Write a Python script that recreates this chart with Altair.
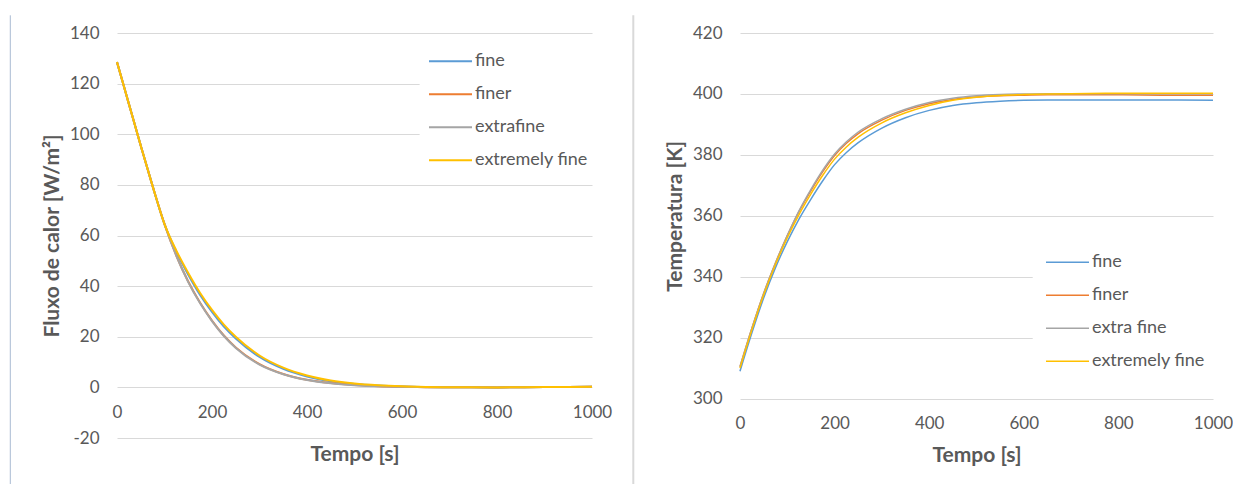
import altair as alt
import pandas as pd

# time axis [s]
t = [0, 25, 50, 75, 100, 125, 150, 175, 200, 225, 250, 300, 350, 400,
     450, 500, 550, 600, 650, 700, 800, 900, 1000]

# left panel: heat flux [W/m2]
flux_fine = [128.5, 112, 95.5, 79.5, 64.5, 53.5, 44.5, 36.5, 29.8, 24, 19.3, 12,
             7.3, 4.3, 2.4, 1.3, 0.7, 0.35, 0.15, 0.05, 0, 0.1, 0.2]
flux_finer = [128.5, 112, 95.5, 79.5, 64.5, 52, 41.8, 33.4, 26.4, 20.5, 15.8, 9.2,
              5.3, 3.0, 1.7, 0.9, 0.45, 0.2, 0.08, 0.02, 0, 0.1, 0.2]
flux_extrafine = [128.5, 112, 95.5, 79.5, 64.5, 52, 41.6, 33.2, 26.2, 20.3, 15.6, 9.0,
                  5.2, 2.9, 1.6, 0.85, 0.4, 0.2, 0.08, 0.02, 0, 0.1, 0.2]
flux_extreme = [128.5, 112, 95.5, 79.5, 64.5, 54, 45.2, 37.3, 30.6, 24.8, 20.0, 12.6,
                7.8, 4.7, 2.7, 1.5, 0.8, 0.4, 0.18, 0.06, 0, 0.1, 0.2]

# right panel: temperature [K]
temp_fine = [309, 321.5, 333, 343, 351.5, 359, 365.5, 371.5, 376.8, 380.8, 384, 388.8,
             392.2, 394.6, 396.2, 397.1, 397.6, 397.9, 398.0, 398.0, 398.0, 398.0, 397.9]
temp_finer = [310.5, 323, 334.5, 344.5, 353.5, 361.5, 368.3, 374.5, 379.8, 383.8, 387,
              391.4, 394.6, 396.8, 398.2, 399, 399.4, 399.6, 399.7, 399.7, 399.7, 399.6, 399.6]
temp_extrafine = [310.5, 323, 334.5, 344.5, 353.5, 361.7, 368.7, 375, 380.3, 384.3, 387.5,
                  391.9, 395, 397.2, 398.6, 399.4, 399.8, 400, 400.1, 400.1, 400.1, 400.1, 400.1]
temp_extreme = [310, 322.5, 334, 344, 352.8, 360.5, 367.2, 373.3, 378.6, 382.6, 385.8,
                390.5, 393.8, 396.2, 397.9, 398.9, 399.5, 399.8, 400, 400.1, 400.2, 400.2, 400.2]

names_left = ["fine", "finer", "extrafine", "extremely fine"]
names_right = ["fine", "finer", "extra fine", "extremely fine"]
colors = ["#5B9BD5", "#ED7D31", "#A5A5A5", "#FFC000"]

x_ticks = [0, 200, 400, 600, 800, 1000]
y_ticks_left = [-20, 0, 20, 40, 60, 80, 100, 120, 140]
y_ticks_right = [300, 320, 340, 360, 380, 400, 420]

FONT = "Lato"
TXT = "#595959"


def long_df(names, series):
    rows = []
    for i, (n, vals) in enumerate(zip(names, series)):
        for tt, v in zip(t, vals):
            rows.append({"t": tt, "v": v, "s": n, "k": i})
    return pd.DataFrame(rows)


df_left = long_df(names_left, [flux_fine, flux_finer, flux_extrafine, flux_extreme])
df_right = long_df(names_right, [temp_fine, temp_finer, temp_extrafine, temp_extreme])
one = pd.DataFrame({"a": [0]})


def panel(df, names, ydom, yticks, ytitle, w, h, x_offset, title_y,
          lx, ly, rect, sep_color, sep_w, stroke):
    lines = alt.Chart(df).mark_line(interpolate="monotone", strokeWidth=stroke).encode(
        x=alt.X("t:Q", scale=alt.Scale(domain=[0, 1000], nice=False),
                axis=alt.Axis(values=x_ticks, title="Tempo [s]", grid=False, domain=False,
                              ticks=False, labelPadding=25, labelBaseline="middle",
                              labelFlush=False, offset=x_offset, titleY=title_y,
                              titleBaseline="middle", labelExpr="'' + datum.value")),
        y=alt.Y("v:Q", scale=alt.Scale(domain=ydom, nice=False, zero=False),
                axis=alt.Axis(values=yticks, title=ytitle, grid=True, domain=False,
                              ticks=False, labelPadding=18, titleX=-65, labelFlush=False,
                              titleBaseline="middle", labelExpr="'' + datum.value")),
        color=alt.Color("s:N", scale=alt.Scale(domain=names, range=colors),
                        legend=alt.Legend(orient="none", legendX=lx, legendY=ly, title=None,
                                          symbolType="stroke", symbolSize=1849,
                                          symbolStrokeWidth=stroke, labelFont=FONT,
                                          labelFontSize=18, labelColor=TXT, labelOffset=2,
                                          clipHeight=33, rowPadding=0, padding=0)),
        order=alt.Order("k:Q"),
    )
    cover = alt.Chart(one).mark_rect(color="white").encode(
        x=alt.value(rect[0]), x2=alt.value(rect[1]),
        y=alt.value(rect[2]), y2=alt.value(rect[3]))
    sep = alt.Chart(one).mark_rule(color=sep_color, strokeWidth=sep_w).encode(
        x=alt.value(-106.7), y=alt.value(-17.7), y2=alt.value(451.3))
    return alt.layer(sep, cover, lines).properties(width=w, height=h)


left = panel(df_left, names_left, [-20, 140], y_ticks_left, "Fluxo de calor [W/m²]",
             475, 405, -51, 67.7, 311, 11.8, (302.6, 478, 12, 142), "#A9BBD3", 1, 2)
right = panel(df_right, names_right, [300, 420], y_ticks_right, "Temperatura [K]",
              473, 365.6, 0, 56.7, 305, 212.8, (292.7, 478, 207, 347), "#D9D9D9", 2, 1.5)

chart = alt.hconcat(left, right, spacing=148, bounds="flush").resolve_scale(
    color="independent", x="independent", y="independent"
).resolve_legend(color="independent").properties(
    padding={"left": 9, "top": 14, "right": 0, "bottom": 0},
    background="white",
).configure_view(strokeWidth=0).configure_axis(
    labelFont=FONT, labelFontSize=17, labelColor=TXT,
    titleFont=FONT, titleFontSize=21, titleFontWeight="bold", titleColor=TXT,
    gridColor="#D9D9D9", gridWidth=1,
)

chart.save("out.html", embed_options={"renderer": "svg", "actions": False})
